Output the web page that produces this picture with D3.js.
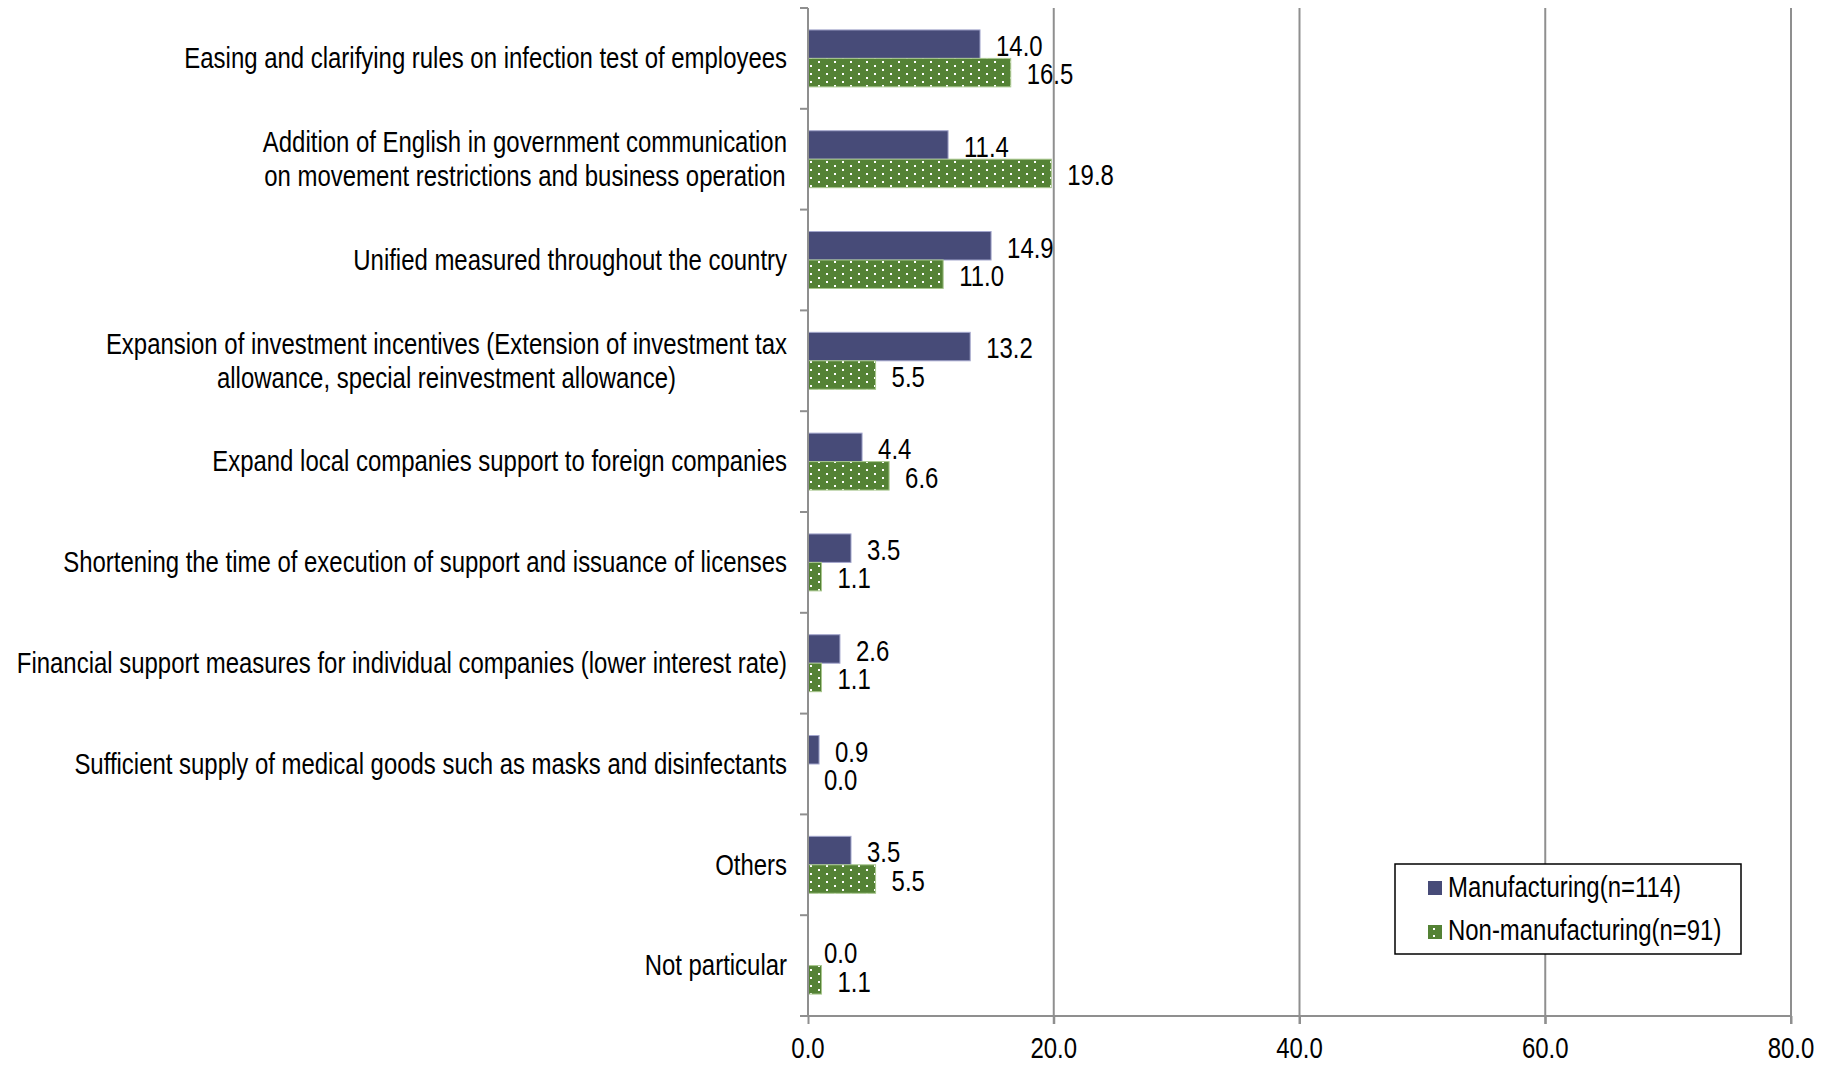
<!DOCTYPE html>
<html>
<head>
<meta charset="utf-8">
<script src="https://cdn.jsdelivr.net/npm/d3@7/dist/d3.min.js"></script>
<style>
  html, body { margin: 0; padding: 0; background: #ffffff; }
  svg { display: block; }
</style>
</head>
<body>
<svg id="chart" width="1831" height="1065"></svg>
<script>
// ---------------- DATA ----------------
const categories = [
  "Easing and clarifying rules on infection test of employees",
  "Addition of English in government communication\non movement restrictions and business operation",
  "Unified measured throughout the country",
  "Expansion of investment incentives (Extension of investment tax\nallowance, special reinvestment allowance)",
  "Expand local companies support to foreign companies",
  "Shortening the time of execution of support and issuance of licenses",
  "Financial support measures for individual companies (lower interest rate)",
  "Sufficient supply of medical goods such as masks and disinfectants",
  "Others",
  "Not particular"
];
const manufacturing = [14.0, 11.4, 14.9, 13.2, 4.4, 3.5, 2.6, 0.9, 3.5, 0.0];
const nonManufacturing = [16.5, 19.8, 11.0, 5.5, 6.6, 1.1, 1.1, 0.0, 5.5, 1.1];
const seriesNames = ["Manufacturing(n=114)", "Non-manufacturing(n=91)"];
const xTicks = [0, 20, 40, 60, 80];

// ---------------- LAYOUT ----------------
const svg = d3.select("#chart");
const FONT = "'Liberation Sans Narrow','Arial Narrow','Liberation Sans',Arial,sans-serif";
const FS = 29;
const plot = { left: 808, right: 1791, top: 8, bottom: 1016 };

// calibrate horizontal compression so text matches the narrow reference face
const probe = svg.append("text").attr("font-family", FONT).attr("font-size", FS)
  .text(categories[0]);
const probeW = probe.node().getComputedTextLength();
probe.remove();
const SX = 603 / probeW;

function txt(g, x, y, s, anchor, baseline) {
  return g.append("text")
    .attr("transform", `translate(${x},${y}) scale(${SX},1)`)
    .attr("font-family", FONT)
    .attr("font-size", FS)
    .attr("fill", "#000")
    .attr("text-anchor", anchor)
    .attr("dominant-baseline", baseline || "central")
    .text(s);
}

const x = d3.scaleLinear().domain([0, 80]).range([plot.left, plot.right]);
const y = d3.scaleBand().domain(categories).range([plot.top, plot.bottom]).paddingInner(0).paddingOuter(0);
const ySub = d3.scaleBand().domain(["m", "n"]).range([0, y.step()]).paddingInner(0).paddingOuter(0.77);

// pattern for non-manufacturing
const defs = svg.append("defs");
const pat = defs.append("pattern").attr("id", "dots").attr("patternUnits", "userSpaceOnUse")
  .attr("width", 16).attr("height", 8).attr("x", plot.left + 2).attr("y", 1);
pat.append("rect").attr("width", 16).attr("height", 8).attr("fill", "#548235");
pat.append("rect").attr("x", 0).attr("y", 0).attr("width", 2).attr("height", 2).attr("fill", "#ffffff");
pat.append("rect").attr("x", 8).attr("y", 4).attr("width", 2).attr("height", 2).attr("fill", "#ffffff");

// gridlines
const grid = svg.append("g");
grid.selectAll("line").data(xTicks.filter(d => d > 0)).enter().append("line")
  .attr("x1", d => x(d)).attr("x2", d => x(d))
  .attr("y1", plot.top).attr("y2", plot.bottom + 8)
  .attr("stroke", "#8f8f8f").attr("stroke-width", 2);

// bars
const rows = categories.map((c, i) => ({ c, m: manufacturing[i], n: nonManufacturing[i] }));
const barG = svg.append("g");
rows.forEach(r => {
  const y0 = y(r.c);
  [["m", r.m, "#474b78", "#a3a6cc"], ["n", r.n, "url(#dots)", "#a8c78e"]].forEach(([k, v, fill, stroke]) => {
    if (v > 0) {
      barG.append("rect")
        .attr("x", x(0)).attr("y", y0 + ySub(k))
        .attr("width", x(v) - x(0)).attr("height", ySub.bandwidth())
        .attr("fill", fill).attr("stroke", stroke).attr("stroke-width", 1);
    }
  });
});

// axes (drawn with d3 axis generators)
const xAxis = d3.axisBottom(x).tickValues(xTicks).tickSize(8).tickFormat("");
const xAx = svg.append("g").attr("transform", `translate(0,${plot.bottom})`).call(xAxis);
xAx.select(".domain").attr("stroke", "#8f8f8f").attr("stroke-width", 2)
  .attr("d", `M${plot.left - 8},0H${plot.right}`);
xAx.selectAll(".tick line").attr("stroke", "#8f8f8f").attr("stroke-width", 2);

const yBounds = categories.map(c => y(c)).concat([plot.bottom]);
const yAx = svg.append("g");
yAx.append("line").attr("x1", plot.left).attr("x2", plot.left)
  .attr("y1", plot.top).attr("y2", plot.bottom)
  .attr("stroke", "#8f8f8f").attr("stroke-width", 2);
yAx.selectAll("line.tk").data(yBounds).enter().append("line").attr("class", "tk")
  .attr("x1", plot.left - 8).attr("x2", plot.left)
  .attr("y1", d => d).attr("y2", d => d)
  .attr("stroke", "#8f8f8f").attr("stroke-width", 2);

// tick labels
const tl = svg.append("g");
xTicks.forEach(t => txt(tl, x(t), 1058, t.toFixed(1), "middle", "alphabetic"));

// category labels
const cl = svg.append("g");
const labelRight = 787;
rows.forEach(r => {
  const lines = r.c.split("\n");
  const cy = y(r.c) + y.bandwidth() / 2;
  const lh = 34;
  if (lines.length === 1) {
    txt(cl, labelRight, cy, lines[0], "end");
  } else {
    const widths = lines.map(l => {
      const t = txt(cl, 0, 0, l, "start");
      const w = t.node().getComputedTextLength() * SX;
      t.remove();
      return w;
    });
    const maxW = d3.max(widths);
    const cx = labelRight - maxW / 2;
    lines.forEach((l, j) => txt(cl, cx, cy + (j - (lines.length - 1) / 2) * lh, l, "middle"));
  }
});

// value labels
const vl = svg.append("g");
rows.forEach(r => {
  const y0 = y(r.c);
  [["m", r.m], ["n", r.n]].forEach(([k, v]) => {
    txt(vl, x(v) + 16, y0 + ySub(k) + ySub.bandwidth() / 2 + 2, v.toFixed(1), "start");
  });
});

// legend
const lg = svg.append("g");
lg.append("rect").attr("x", 1395).attr("y", 864).attr("width", 346).attr("height", 90)
  .attr("fill", "#fff").attr("stroke", "#000").attr("stroke-width", 1.5);
lg.append("rect").attr("x", 1428).attr("y", 881).attr("width", 14).attr("height", 14)
  .attr("fill", "#474b78");
lg.append("rect").attr("x", 1428).attr("y", 925).attr("width", 14).attr("height", 14)
  .attr("fill", "#548235");
lg.append("rect").attr("x", 1433).attr("y", 928).attr("width", 2).attr("height", 2).attr("fill", "#fff");
lg.append("rect").attr("x", 1433).attr("y", 935).attr("width", 2).attr("height", 2).attr("fill", "#fff");
txt(lg, 1448, 887, seriesNames[0], "start");
txt(lg, 1448, 930, seriesNames[1], "start");
</script>
</body>
</html>
